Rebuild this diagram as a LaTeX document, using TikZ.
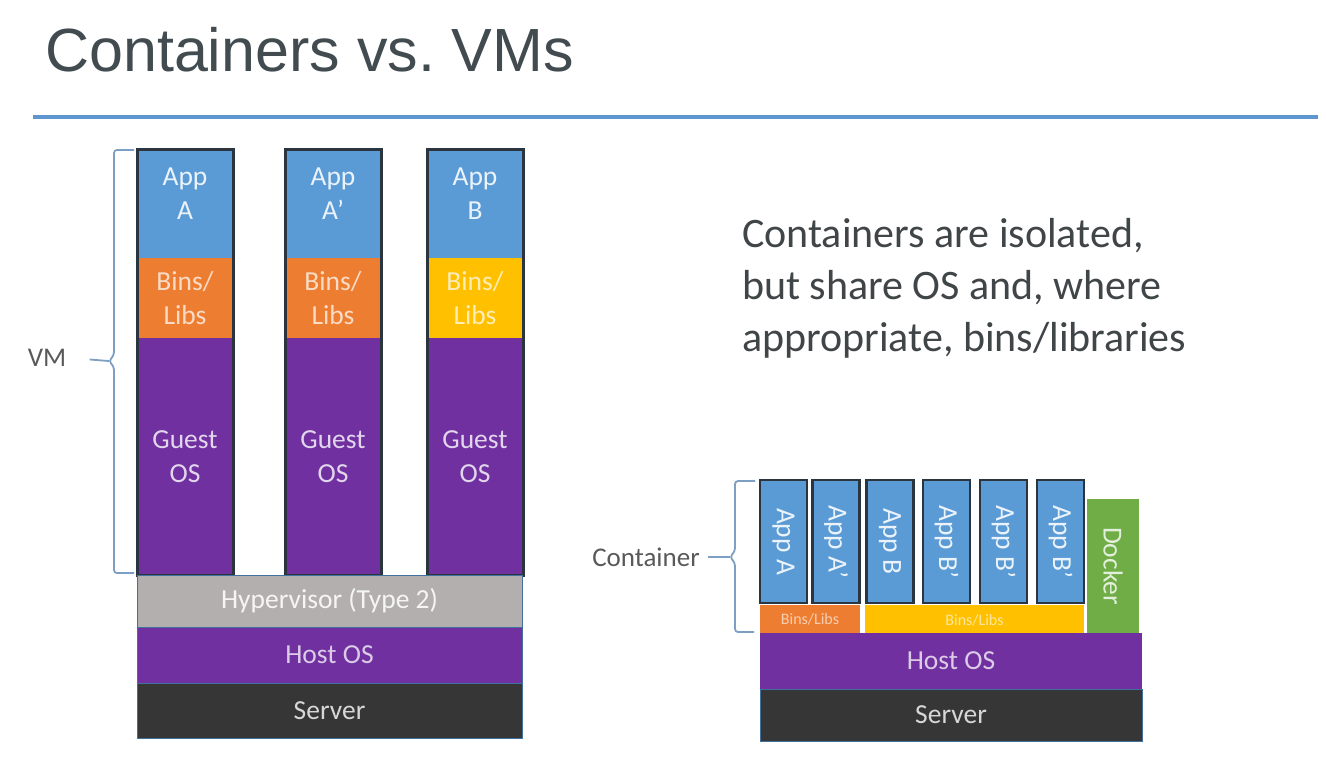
\documentclass[tikz,border=0pt]{standalone}
\usepackage{fontspec}
\setmainfont{Carlito}
\newfontfamily\slidetitlefont{Liberation Sans}
\usepackage{tikz}
\usetikzlibrary{positioning,calc}
\usepackage{xcolor}

\definecolor{appblue}{HTML}{5B9BD5}
\definecolor{binorange}{HTML}{ED7D31}
\definecolor{binyellow}{HTML}{FFC000}
\definecolor{ospurple}{HTML}{7030A0}
\definecolor{hypgray}{HTML}{B3AFAF}
\definecolor{serverdark}{HTML}{363636}
\definecolor{dockgreen}{HTML}{70AD47}
\definecolor{colframe}{HTML}{2A3540}
\definecolor{edgeblue}{HTML}{41719C}
\definecolor{bracecol}{HTML}{7E9FC4}
\definecolor{titlegray}{HTML}{414B50}
\definecolor{rulecol}{HTML}{5E97CF}
\definecolor{bodygray}{HTML}{404548}
\definecolor{labelgray}{HTML}{595959}

\newcommand{\layerfont}{\fontsize{27.5}{34}\selectfont}
\newcommand{\tinylayerfont}{\fontsize{16}{18}\selectfont}

\tikzset{
  layer/.style={inner sep=0pt, outer sep=0pt, font=\layerfont, align=center},
  apptile/.style={layer, fill=appblue, text=white!88!appblue,
    minimum width=96pt, minimum height=109pt, text depth=20pt},
  binstile/.style={layer, fill=#1, text=white!72!#1,
    minimum width=96pt, minimum height=80pt},
  guesttile/.style={layer, fill=ospurple, text=white!80!ospurple,
    minimum width=96pt, minimum height=237pt},
  baselayer/.style={layer, draw=edgeblue, line width=0.8pt},
  colborder/.style={draw=colframe, line width=3pt},
  ctile/.style={layer, rotate=-90, fill=appblue, text=white!88!appblue,
    draw=colframe, line width=2.5pt, minimum width=123pt, minimum height=47pt},
  cbins/.style={layer, fill=#1, text=white!62!#1, font=\tinylayerfont},
  bracket/.style={draw=bracecol, line width=1.8pt, rounded corners=3pt},
  sidelabel/.style={font=\fontsize{27}{30}\selectfont, text=labelgray}
}

\begin{document}
\begin{tikzpicture}[x=1pt, y=-1pt]
  \useasboundingbox (0,0) rectangle (1326,772);
  % Title and rule
  \node[anchor=base west, inner sep=0pt, text=titlegray,
    font=\slidetitlefont\fontsize{61}{70}\selectfont] (title) at (45,71) {Containers vs.\ VMs};
  \coordinate (ruleL) at (33,117);
  \coordinate (ruleR) at (1318,117);
  \draw[rulecol, line width=3.5pt] (ruleL) -- (ruleR);

  % VM stack: three guests on a hypervisor
  \node[apptile] (appA) at (185,203.5) {App\\A};
  \node[binstile=binorange] (binA) at (185,298) {Bins/\\Libs};
  \node[guesttile] (gosA) at (185,456.5) {Guest\\OS};
  \node[apptile] (appA2) at (333,203.5) {App\\A’};
  \node[binstile=binorange] (binA2) at (333,298) {Bins/\\Libs};
  \node[guesttile] (gosA2) at (333,456.5) {Guest\\OS};
  \node[apptile] (appB) at (475,203.5) {App\\B};
  \node[binstile=binyellow] (binB) at (475,298) {Bins/\\Libs};
  \node[guesttile] (gosB) at (475,456.5) {Guest\\OS};
  \draw[colborder] (appA.north west) rectangle (gosA.south east);
  \draw[colborder] (appA2.north west) rectangle (gosA2.south east);
  \draw[colborder] (appB.north west) rectangle (gosB.south east);

  \node[baselayer, fill=hypgray, text=white!88!hypgray,
    minimum width=385pt, minimum height=52pt] (hyper) at (329.5,601) {Hypervisor (Type 2)};
  \node[baselayer, fill=ospurple, text=white!75!ospurple,
    minimum width=385pt, minimum height=56pt] (hostvm) at (329.5,655) {Host OS};
  \node[baselayer, fill=serverdark, text=white!80!serverdark,
    minimum width=385pt, minimum height=55pt] (servervm) at (329.5,710.5) {Server};

  % VM bracket
  \draw[bracket] (134,150) -- (114,150) -- (114,355) -- (109,361)
    -- (114,367) -- (114,573) -- (134,573);
  \coordinate (vmtip) at (109,361);
  \node[sidelabel] (vmlabel) at (47,358) {VM};
  \draw[bracecol, line width=1.8pt, shorten <=20pt] (vmlabel.east) -- (vmtip);

  % Caption
  \node[anchor=base west, align=left, inner sep=0pt, text=bodygray,
    font=\fontsize{42}{52}\selectfont] (caption) at (742,351)
    {Containers are isolated,\\but share OS and, where\\appropriate, bins/libraries};

  % Container stack
  \node[ctile] (capA) at (783.5,541.5) {App A};
  \node[ctile] (capA2) at (836,541.5) {App A’};
  \node[ctile] (capB) at (890,541.5) {App B};
  \node[ctile] (capB2) at (946.5,541.5) {App B’};
  \node[ctile] (capB3) at (1003.5,541.5) {App B’};
  \node[ctile] (capB4) at (1060.5,541.5) {App B’};
  \node[layer, rotate=-90, fill=dockgreen, text=white!80!dockgreen,
    minimum width=134pt, minimum height=52pt] (docker) at (1113,566) {Docker};
  \node[cbins=binorange, minimum width=100pt, minimum height=28pt] (cbinA) at (810,619) {Bins/Libs};
  \node[cbins=binyellow, minimum width=219pt, minimum height=30pt] (cbinB) at (974.5,620) {Bins/Libs};
  \node[layer, fill=ospurple, text=white!75!ospurple,
    minimum width=382pt, minimum height=56pt] (hostct) at (951,661) {Host OS};
  \node[baselayer, fill=serverdark, text=white!80!serverdark,
    minimum width=382pt, minimum height=52pt] (serverct) at (951,715) {Server};

  % Container bracket
  \draw[bracket] (755,481) -- (735,481) -- (735,551) -- (730,557)
    -- (735,563) -- (735,632) -- (754,632);
  \coordinate (cttip) at (730,557);
  \node[sidelabel] (ctlabel) at (646,557) {Container};
  \draw[bracecol, line width=1.8pt, shorten <=5pt] (ctlabel.east) -- (cttip);
\end{tikzpicture}
\end{document}
